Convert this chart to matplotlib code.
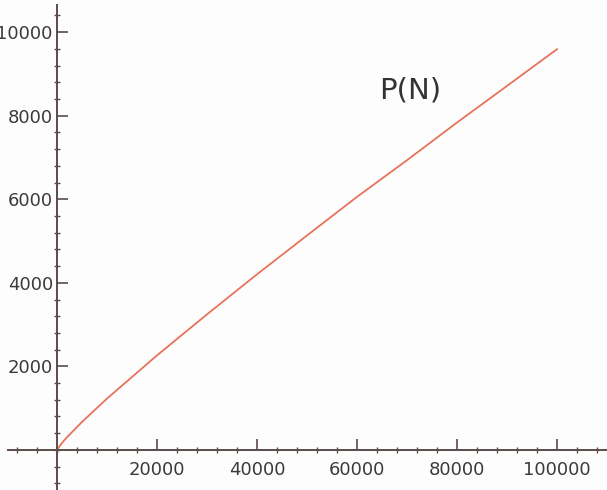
import matplotlib
matplotlib.use('Agg')
import matplotlib.pyplot as plt
from matplotlib.ticker import MultipleLocator

# prime counting values P(N)
n_vals = [0, 1000, 2000, 5000, 10000, 20000, 30000, 40000, 50000,
          60000, 70000, 80000, 90000, 100000]
p_vals = [0, 168, 303, 669, 1229, 2262, 3245, 4203, 5133,
          6057, 6935, 7837, 8713, 9592]

axis_col = '#5b4b4b'
text_col = '#3f3a3a'

fig = plt.figure(figsize=(6.07, 4.90), dpi=100)
fig.patch.set_facecolor('#fdfdfd')
ax = fig.add_axes([0, 0, 1, 1])
ax.set_facecolor('#fdfdfd')

ax.plot(n_vals, p_vals, color='#e8735a', linewidth=1.3)

ax.set_xlim(-11400, 110000)
ax.set_ylim(-960, 10770)

for s in ['top', 'right']:
    ax.spines[s].set_visible(False)
ax.spines['left'].set_position(('data', 0))
ax.spines['bottom'].set_position(('data', 0))
ax.spines['left'].set_bounds(-960, 10650)
ax.spines['bottom'].set_bounds(-9800, 110000)
for s in ['left', 'bottom']:
    ax.spines[s].set_color(axis_col)
    ax.spines[s].set_linewidth(1.4)

ax.xaxis.set_major_locator(MultipleLocator(20000))
ax.xaxis.set_minor_locator(MultipleLocator(4000))
ax.yaxis.set_major_locator(MultipleLocator(2000))
ax.yaxis.set_minor_locator(MultipleLocator(400))

ax.tick_params(which='major', direction='in', length=8, width=1.2,
               colors=axis_col, labelcolor=text_col, labelsize=13)
ax.tick_params(which='minor', direction='inout', length=4, width=1.0,
               colors=axis_col)
ax.tick_params(axis='x', which='major', pad=8)
ax.tick_params(axis='y', which='major', pad=3)

xt = [20000, 40000, 60000, 80000, 100000]
ax.set_xticks(xt)
ax.set_xticklabels([str(v) for v in xt])
yt = [2000, 4000, 6000, 8000, 10000]
ax.set_yticks(yt)
ax.set_yticklabels([str(v) for v in yt])

ax.text(70600, 8600, 'P(N)', fontsize=21, color='#333333',
        ha='center', va='center')

fig.savefig('out.png', dpi=100, facecolor=fig.get_facecolor())
